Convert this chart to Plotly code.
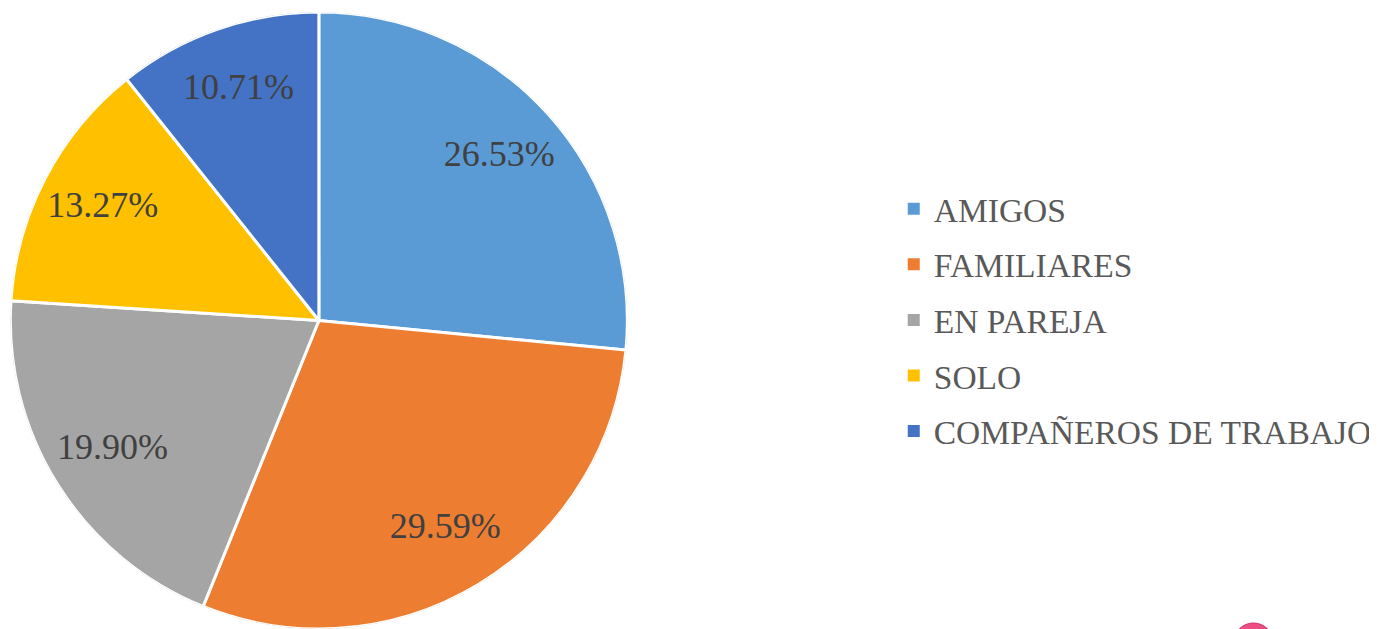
import plotly.graph_objects as go

labels = ["AMIGOS", "FAMILIARES", "EN PAREJA", "SOLO", "COMPAÑEROS DE TRABAJO"]
values = [26.53, 29.59, 19.90, 13.27, 10.71]
colors = ["#5B9BD5", "#ED7D31", "#A5A5A5", "#FFC000", "#4472C4"]

# page body has an 8px margin, so the figure is drawn 8px right/down
OFF = 8
W, H = 1377 - OFF, 629 - OFF
FONT = "Liberation Serif"

# slice geometry derived from the data (clockwise from 12 o'clock)
total = sum(values)
spans = [v / total * 360.0 for v in values]
mid_angles, cum = [], 0.0
for s in spans:
    mid_angles.append(cum + s / 2)
    cum += s
pct_text = [f"{v / total * 100:.2f}%" for v in values]

fig = go.Figure()
# pie drawn as full-radius polar wedges
fig.add_trace(go.Barpolar(
    r=[1] * len(values), theta=mid_angles, width=spans,
    marker=dict(color=colors, line=dict(color="white", width=3)),
    customdata=labels, hovertemplate="%{customdata}<extra></extra>",
    showlegend=False,
))
# percentage labels at each slice's mid-angle
fig.add_trace(go.Scatterpolar(
    r=[0.79] * len(values), theta=mid_angles, mode="text", text=pct_text,
    textfont=dict(family=FONT, size=36, color="#404040"),
    showlegend=False, hoverinfo="skip",
))

for i, (lab, col) in enumerate(zip(labels, colors)):
    fig.add_trace(go.Scatter(
        x=[None], y=[None], mode="markers", name=lab, legendgroup=f"g{i}",
        marker=dict(symbol="square", size=12, color=col),
    ))

fig.update_layout(
    width=W, height=H, margin=dict(l=0, r=0, t=0, b=0),
    paper_bgcolor="white", plot_bgcolor="white",
    xaxis=dict(visible=False), yaxis=dict(visible=False),
    polar=dict(domain=dict(x=[2 / W, 622 / W], y=[0, 1 - 4 / H]),
               bgcolor="rgba(0,0,0,0)", bargap=0, hole=0,
               radialaxis=dict(visible=False, range=[0, 1]),
               angularaxis=dict(visible=False, rotation=90, direction="clockwise")),
    legend=dict(x=889 / W, xanchor="left", y=1 - 312 / H, yanchor="middle",
                font=dict(family=FONT, size=33.5, color="#595959"),
                tracegroupgap=9, itemwidth=30, bgcolor="rgba(0,0,0,0)"),
    shapes=[dict(type="circle", xref="paper", yref="paper",
                 x0=1230 / W, x1=1270 / W, y0=1 - 655 / H, y1=1 - 615 / H,
                 fillcolor="#EE4D83", line=dict(color="#D62B5E", width=1))],
)

fig.write_html("out.html")
